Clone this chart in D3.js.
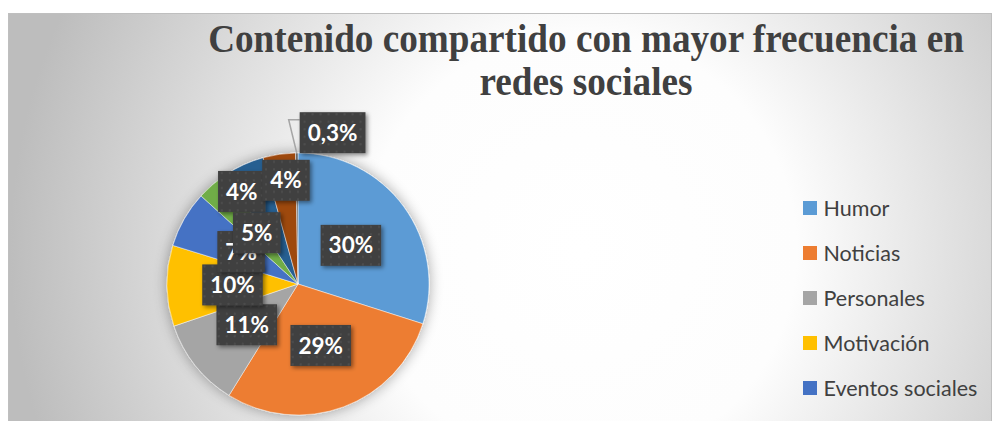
<!DOCTYPE html>
<html lang="es">
<head>
<meta charset="utf-8">
<title>Contenido compartido con mayor frecuencia en redes sociales</title>
<script src="https://cdn.jsdelivr.net/npm/d3@7/dist/d3.min.js"></script>
<style>
  html, body { margin: 0; padding: 0; background: #ffffff; }
  svg { display: block; }
</style>
</head>
<body>
<svg id="chart" width="996" height="421"></svg>
<script>
// ---- data ----------------------------------------------------------------
const titleLines = ["Contenido compartido con mayor frecuencia en", "redes sociales"];
const categories = ["Humor", "Noticias", "Personales", "Motivación", "Eventos sociales",
                    "Categoría 6", "Categoría 7", "Categoría 8", "Categoría 9"];
const shares = [30, 29, 11, 10, 7, 4, 5, 4, 0.3];           // percent of responses
const sliceColors = ["#5b9bd5", "#ed7d31", "#a5a5a5", "#ffc000", "#4472c4",
                     "#70ad47", "#255e91", "#9e480e", "#636363"];
const legendCount = 5;                                        // rows that fit in the legend box

// ---- layout ----------------------------------------------------------------
const frame = { x: 8.5, y: 13.5, w: 983, h: 420 };
const pieCenter = [298, 284];
const pieRadius = 131;
// radial position (fraction of the radius) and sideways nudge for each data label
const labelRadius = [0.5, 0.5, 0.5, 0.5, 0.5, 0.93, 0.43, 0.8, 1.155];
const labelNudgeX = [0, 0, 0, 0, 0, 23, -18, 3, 36];

const fmtPct = v => (Number.isInteger(v) ? String(v) : String(v).replace(".", ",")) + "%";

const svg = d3.select("#chart");
const defs = svg.append("defs");

// background: soft radial fill, light in the middle, grey toward the edges
const bg = defs.append("radialGradient")
  .attr("id", "bgGrad").attr("gradientUnits", "userSpaceOnUse")
  .attr("cx", 580).attr("cy", 250).attr("r", 570);
bg.append("stop").attr("offset", 0).attr("stop-color", "#ffffff");
bg.append("stop").attr("offset", 0.38).attr("stop-color", "#fdfdfd");
bg.append("stop").attr("offset", 1).attr("stop-color", "#bdbdbd");

// halo behind the pie
const halo = defs.append("filter").attr("id", "pieHalo")
  .attr("x", "-20%").attr("y", "-20%").attr("width", "140%").attr("height", "140%");
halo.append("feGaussianBlur").attr("in", "SourceAlpha").attr("stdDeviation", 7).attr("result", "b");
halo.append("feComponentTransfer").attr("in", "b").attr("result", "s")
  .append("feFuncA").attr("type", "linear").attr("slope", 0.35);
const hm = halo.append("feMerge");
hm.append("feMergeNode").attr("in", "s");
hm.append("feMergeNode").attr("in", "SourceGraphic");

// dark dotted fill for the data label boxes
const pat = defs.append("pattern").attr("id", "dots")
  .attr("patternUnits", "userSpaceOnUse").attr("width", 8).attr("height", 7.5);
pat.append("rect").attr("width", 8).attr("height", 7.5).attr("fill", "#404040");
pat.append("rect").attr("x", 3).attr("y", 3).attr("width", 2).attr("height", 2).attr("fill", "#4e4e4e");

const boxShadow = defs.append("filter").attr("id", "boxShadow")
  .attr("x", "-20%").attr("y", "-20%").attr("width", "150%").attr("height", "150%");
boxShadow.append("feDropShadow").attr("dx", 2).attr("dy", 2).attr("stdDeviation", 2)
  .attr("flood-color", "#000").attr("flood-opacity", 0.45);

// chart area
svg.append("rect")
  .attr("x", frame.x).attr("y", frame.y).attr("width", frame.w).attr("height", frame.h)
  .attr("fill", "url(#bgGrad)").attr("stroke", "#bfbfbf").attr("stroke-width", 1);

// title: bold serif, condensed horizontally to its line widths
const titleCenterX = 586;
const titleBaselines = [52, 95];
const titleWidths = [756, 213];
const gTitle = svg.append("g");
titleLines.forEach((line, i) => {
  const g = gTitle.append("g");
  const t = g.append("text")
    .attr("x", 0).attr("y", 0).attr("text-anchor", "middle")
    .attr("font-family", "'Liberation Serif', 'Times New Roman', serif")
    .attr("font-weight", "bold").attr("font-size", 40).attr("fill", "#404040")
    .text(line);
  const sx = titleWidths[i] / t.node().getComputedTextLength();
  g.attr("transform", `translate(${titleCenterX},${titleBaselines[i]}) scale(${sx},1)`);
});

// pie
const items = categories.map((c, i) => ({ name: c, value: shares[i], color: sliceColors[i], i }));
const pie = d3.pie().value(d => d.value).sort(null);
const arcs = pie(items);
const arc = d3.arc().innerRadius(0).outerRadius(pieRadius);

const gPie = svg.append("g").attr("transform", `translate(${pieCenter})`);
gPie.append("g").attr("filter", "url(#pieHalo)")
  .selectAll("path").data(arcs).join("path")
  .attr("d", arc).attr("fill", d => d.data.color)
  .attr("stroke", "#ffffff").attr("stroke-width", 0.6).attr("stroke-opacity", 0.8);

// data labels
const labelFont = "Lato, 'Open Sans', sans-serif";
const labelPos = arcs.map((a, i) => {
  const r = labelRadius[i] * pieRadius;
  const m = (a.startAngle + a.endAngle) / 2;
  return [Math.sin(m) * r + labelNudgeX[i], -Math.cos(m) * r];
});

const gLabels = gPie.append("g");
arcs.forEach((a, i) => {
  const [cx, cy] = labelPos[i];
  const g = gLabels.append("g").attr("transform", `translate(${cx},${cy})`);
  const box = g.append("rect").attr("fill", "url(#dots)").attr("filter", "url(#boxShadow)");
  const t = g.append("text")
    .attr("text-anchor", "middle").attr("dy", "0.36em")
    .attr("font-family", labelFont).attr("font-weight", "bold")
    .attr("font-size", 22.5).attr("fill", "#ffffff")
    .text(fmtPct(a.data.value));
  const tw = t.node().getComputedTextLength();
  const bw = tw + 16, bh = 41;
  box.attr("x", -bw / 2).attr("y", -bh / 2).attr("width", bw).attr("height", bh);

  // slices whose label sits outside the pie get a leader line
  if (labelRadius[i] > 1) {
    const m = (a.startAngle + a.endAngle) / 2;
    const start = [Math.sin(m) * pieRadius, -Math.cos(m) * pieRadius];
    const left = cx - bw / 2, top = cy - bh / 2;
    const elbow = [left - 11, top + 7.5];
    const end = [left, top + 7.5];
    gPie.insert("path", () => gLabels.node())
      .attr("d", d3.line()([start, elbow, end]))
      .attr("fill", "none").attr("stroke", "#a6a6a6").attr("stroke-width", 1.5);
  }
});

// legend
const legendItems = items.slice(0, legendCount);
const gLegend = svg.append("g").attr("transform", "translate(803,208)");
const row = gLegend.selectAll("g").data(legendItems).join("g")
  .attr("transform", (d, i) => `translate(0,${i * 45})`);
row.append("rect").attr("x", 0).attr("y", -7).attr("width", 14).attr("height", 14)
  .attr("fill", d => d.color);
row.append("text").attr("x", 20.5).attr("dy", "0.36em")
  .attr("font-family", labelFont).attr("font-size", 21.5).attr("fill", "#404040")
  .text(d => d.name);
</script>
</body>
</html>
